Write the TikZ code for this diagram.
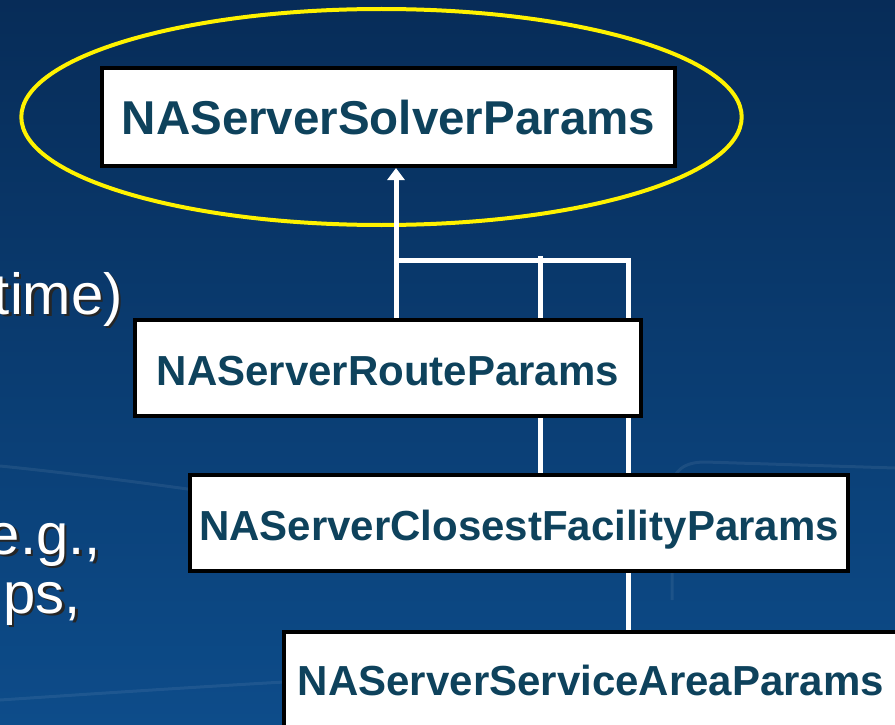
\documentclass[tikz,border=0pt]{standalone}
\usepackage{fontspec}
\setmainfont{Liberation Sans}
\usetikzlibrary{arrows.meta}
\definecolor{bgtop}{RGB}{7,44,88}
\definecolor{bgbot}{RGB}{13,76,138}
\definecolor{clsText}{RGB}{14,66,92}
\newcommand{\shtext}[1]{\makebox[0pt][l]{\raisebox{-2.5pt}{\hspace{2.5pt}\textcolor{black!85}{#1}}}#1}
\pgfdeclarelayer{back}
\pgfsetlayers{back,main}
\begin{document}
\begin{tikzpicture}[x=1pt,y=-1pt,
  clsbox/.style={draw=black,line width=4pt,fill=white,text=clsText,
    font=\bfseries\fontsize{42}{42}\selectfont,inner sep=0pt,text depth=0pt},
  conn/.style={draw=white,line width=5pt},
  hilite/.style={draw=yellow,line width=4pt},
  faint/.style={draw=white,opacity=0.07,line width=3pt},
  bullettxt/.style={text=white,font=\fontsize{58}{58}\selectfont,inner sep=0pt,anchor=base east}]
\useasboundingbox (0,0) rectangle (895,725);
\clip (0,0) rectangle (895,725);

% class boxes
\node[clsbox,minimum width=573pt,minimum height=98pt,text height=34pt,
  font=\bfseries\fontsize{47.5}{47.5}\selectfont] (solver) at (388.5,117) {NAServerSolverParams};
\node[clsbox,minimum width=506pt,minimum height=96pt,text height=35.4pt] (route) at (388,368) {NAServerRouteParams};
\node[clsbox,minimum width=658pt,minimum height=96pt,text height=35.4pt] (closest) at (519,523) {NAServerClosestFacilityParams};
\node[clsbox,minimum width=615pt,minimum height=96pt,text height=31pt] (service) at (591,679.5) {NAServerServiceAreaParams};

% cut-off bullet text at left
\node[bullettxt] (t1) at (123,314) {\shtext{time)}};
\node[bullettxt] (t2) at (101,554) {\shtext{e.g.,}};
\node[bullettxt] (t3) at (81,613) {\shtext{ps,}};

\coordinate (j1) at (396,260);
\coordinate (j2) at (540.5,260);
\coordinate (j3) at (628,260);

\begin{pgfonlayer}{back}
  \shade[top color=bgtop,bottom color=bgbot] (0,0) rectangle (895,725);
  % faint template strokes
  \draw[faint] (0,466) .. controls (120,478) and (260,500) .. (420,520);
  \draw[faint] (0,700) .. controls (150,690) and (300,680) .. (480,672);
  \draw[faint] (672,600) -- (672,490) .. controls (672,470) and (685,462) .. (705,462) -- (895,468);
  % highlight ellipse
  \draw[hilite] (381.5,117) ellipse [x radius=360.2, y radius=108];
  % inheritance connectors
  \draw[conn,-{Triangle[width=17pt,length=12pt]}] (route.north -| j1) -- (solver.south -| j1);
  \draw[conn,line join=miter] (service.north -| j3) -- (j3) -- (j1);
  \draw[conn] (closest.north -| j2) -- ([yshift=4pt]j2);
\end{pgfonlayer}
\end{tikzpicture}
\end{document}
